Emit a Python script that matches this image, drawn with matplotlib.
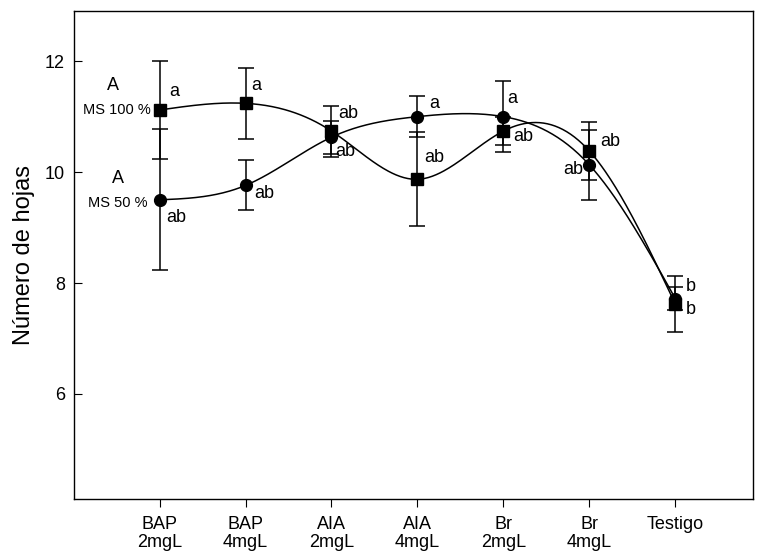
import numpy as np
import matplotlib
matplotlib.use("Agg")
import matplotlib.pyplot as plt

plt.rcParams["font.family"] = ["Liberation Sans", "DejaVu Sans"]

TREATMENTS = ["BAP\n2mgL", "BAP\n4mgL", "AIA\n2mgL", "AIA\n4mgL", "Br\n2mgL", "Br\n4mgL", "Testigo"]

# MS 100 % (squares)
ms100_mean = [11.12, 11.24, 10.74, 9.87, 10.74, 10.38, 7.62]
ms100_err = [0.89, 0.645, 0.46, 0.85, 0.26, 0.52, 0.50]
ms100_letters = ["a", "a", "ab", "ab", "ab", "ab", "b"]

# MS 50 % (circles)
ms50_mean = [9.50, 9.76, 10.63, 11.00, 11.00, 10.13, 7.72]
ms50_err = [1.27, 0.45, 0.30, 0.37, 0.64, 0.63, 0.20]
ms50_letters = ["ab", "ab", "ab", "a", "a", "ab", "b"]

# letter label positions (x, y) for each series
ms100_label_pos = [(1.17, 11.46), (2.13, 11.57), (3.20, 11.06), (4.19, 10.26),
                   (5.23, 10.64), (6.24, 10.55), (7.18, 7.53)]
ms50_label_pos = [(1.19, 9.19), (2.22, 9.62), (3.16, 10.38), (4.19, 11.24),
                  (5.10, 11.32), (5.81, 10.05), (7.18, 7.93)]


def natural_spline(x, y, n=400):
    x = np.asarray(x, float)
    y = np.asarray(y, float)
    k = len(x)
    h = np.diff(x)
    A = np.zeros((k, k))
    b = np.zeros(k)
    A[0, 0] = 1
    A[-1, -1] = 1
    for i in range(1, k - 1):
        A[i, i - 1] = h[i - 1]
        A[i, i] = 2 * (h[i - 1] + h[i])
        A[i, i + 1] = h[i]
        b[i] = 6 * ((y[i + 1] - y[i]) / h[i] - (y[i] - y[i - 1]) / h[i - 1])
    m = np.linalg.solve(A, b)
    xs = np.linspace(x[0], x[-1], n)
    idx = np.clip(np.searchsorted(x, xs) - 1, 0, k - 2)
    x0, x1 = x[idx], x[idx + 1]
    hh = x1 - x0
    t0 = x1 - xs
    t1 = xs - x0
    ys = (m[idx] * t0 ** 3 + m[idx + 1] * t1 ** 3) / (6 * hh) \
        + (y[idx] / hh - m[idx] * hh / 6) * t0 \
        + (y[idx + 1] / hh - m[idx + 1] * hh / 6) * t1
    return xs, ys


fig = plt.figure(figsize=(7.57, 5.53), dpi=100)
ax = fig.add_axes([0.0984, 0.0971, 0.8959, 0.8825])

x = np.arange(1, len(TREATMENTS) + 1)

for mean, err, marker in [(ms100_mean, ms100_err, "s"), (ms50_mean, ms50_err, "o")]:
    xs, ys = natural_spline(x, mean)
    ax.plot(xs, ys, color="black", lw=1.1, zorder=2)
    ax.errorbar(x, mean, yerr=err, fmt=marker, color="black", ms=8.5,
                ecolor="black", elinewidth=1.1, capsize=5.5, capthick=1.1, zorder=3)

for (px, py), lab in zip(ms100_label_pos, ms100_letters):
    ax.text(px, py, lab, ha="center", va="center", fontsize=13)
for (px, py), lab in zip(ms50_label_pos, ms50_letters):
    ax.text(px, py, lab, ha="center", va="center", fontsize=13)

ax.text(0.46, 11.57, "A", ha="center", va="center", fontsize=13)
ax.text(0.90, 11.12, "MS 100 %", ha="right", va="center", fontsize=10.5)
ax.text(0.52, 9.89, "A", ha="center", va="center", fontsize=13)
ax.text(0.86, 9.45, "MS 50 %", ha="right", va="center", fontsize=10.5)

ax.set_xlim(0.01, 7.9)
ax.set_ylim(4.1, 12.9)
ax.set_xticks(x)
ax.set_xticklabels(TREATMENTS, fontsize=13, linespacing=1.1)
ax.set_yticks([6, 8, 10, 12])
ax.tick_params(axis="y", direction="in", length=6, labelsize=13, pad=7)
ax.tick_params(axis="x", direction="out", length=6, pad=6)
ax.set_ylabel("Número de hojas", fontsize=17, labelpad=7)
for s in ax.spines.values():
    s.set_linewidth(1.0)

fig.savefig("out.png", dpi=100)
